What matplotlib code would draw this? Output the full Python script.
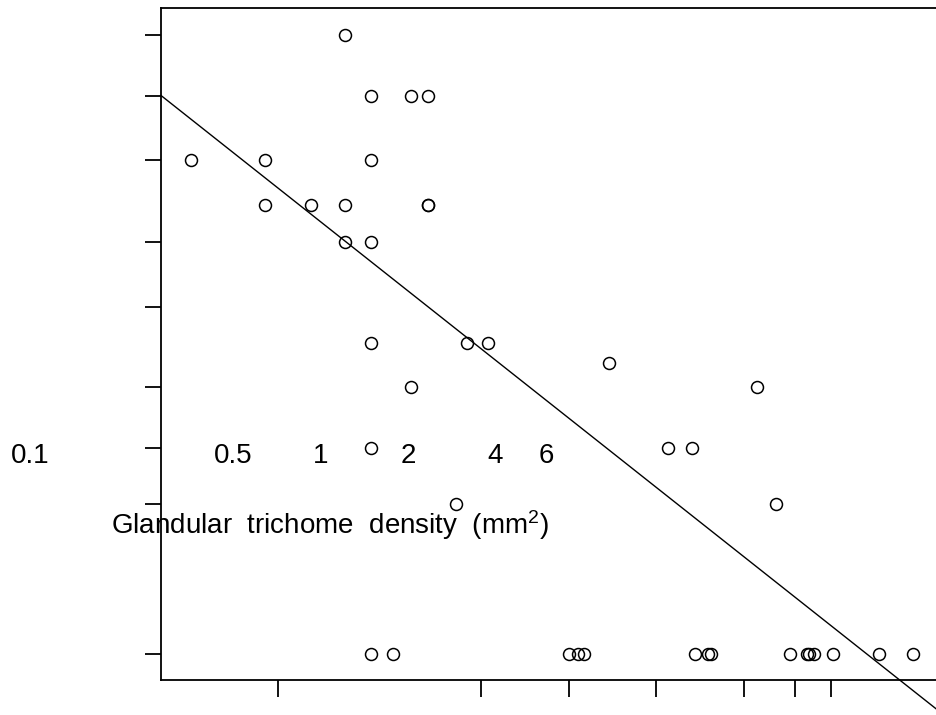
import matplotlib
matplotlib.use("Agg")
import matplotlib.pyplot as plt
import matplotlib.transforms as mtrans
from matplotlib.ticker import FixedLocator, NullFormatter
import numpy as np

plt.rcParams['font.family'] = ['Liberation Sans', 'DejaVu Sans']
plt.rcParams['mathtext.default'] = 'regular'

# glandular trichome density (mm^2), log axis
density = [0.170,
           0.209, 0.287, 0.328,
           0.0502, 0.0902, 0.209,
           0.0902, 0.130, 0.170, 0.328, 0.328,
           0.170, 0.209,
           0.209, 0.447, 0.528,
           1.38,
           0.287, 4.45,
           0.209, 2.20, 2.66,
           0.410, 5.17,
           0.209, 0.249, 1.00, 1.08, 1.13, 2.72, 3.02, 3.09,
           5.78, 6.61, 6.72, 6.99, 8.13, 11.7, 15.3]
response = [64.5,
            58.4, 58.4, 58.4,
            52.0, 52.0, 52.0,
            47.5, 47.5, 47.5, 47.5, 47.5,
            43.8, 43.8,
            33.7, 33.7, 33.7,
            31.7,
            29.3, 29.3,
            23.2, 23.2, 23.2,
            17.6, 17.6,
            2.6, 2.6, 2.6, 2.6, 2.6, 2.6, 2.6, 2.6,
            2.6, 2.6, 2.6, 2.6, 2.6, 2.6, 2.6]

# fitted line: response = a + b*log10(density)
fit_a = 26.2
fit_b = -23.0

x_ticks = [0.1, 0.5, 1, 2, 4, 6, 8]
x_labels = ["0.1", "0.5", "1", "2", "4", "6"]
y_ticks = [64.5, 58.4, 52.0, 43.8, 37.3, 29.3, 23.2, 17.6, 2.6]
xlabel = "Glandular  trichome  density  (mm$^2$)"

fig = plt.figure(figsize=(9.36, 7.15), dpi=100)
ax = fig.add_axes([161/936, 1-680/715, 839/936, 672/715])

ax.plot(density, response, 'o', mfc='none', mec='black', ms=8.6, mew=1.1, clip_on=False)

xs = np.logspace(np.log10(0.0396), np.log10(40), 50)
ax.plot(xs, fit_a + fit_b*np.log10(xs), color='black', lw=1.0, clip_on=False)

ax.set_xscale('log')
ax.set_xlim(0.0396, 30.5)
ax.set_ylim(0, 67.2)

ax.xaxis.set_major_locator(FixedLocator(x_ticks))
ax.xaxis.set_minor_locator(FixedLocator([]))
ax.xaxis.set_major_formatter(NullFormatter())
ax.yaxis.set_major_locator(FixedLocator(y_ticks))
ax.yaxis.set_major_formatter(NullFormatter())
ax.tick_params(axis='x', length=12, width=1.3, direction='out')
ax.tick_params(axis='y', length=11.5, width=1.3, direction='out')
for s in ax.spines.values():
    s.set_linewidth(1.3)

# tick labels sit shifted up and left of their ticks
trans = mtrans.blended_transform_factory(ax.transData, ax.transAxes)
trans = mtrans.offset_copy(trans, x=-248, y=0, units='dots')
for v, lab in zip(x_ticks, x_labels):
    ax.text(v, (680-463)/672, lab, transform=trans, ha='center', va='baseline',
            fontsize=20, clip_on=False)

fig.text(329.5/936, 1-534/715, xlabel, ha='center', va='baseline', fontsize=20)

fig.savefig("out.png", dpi=100)
